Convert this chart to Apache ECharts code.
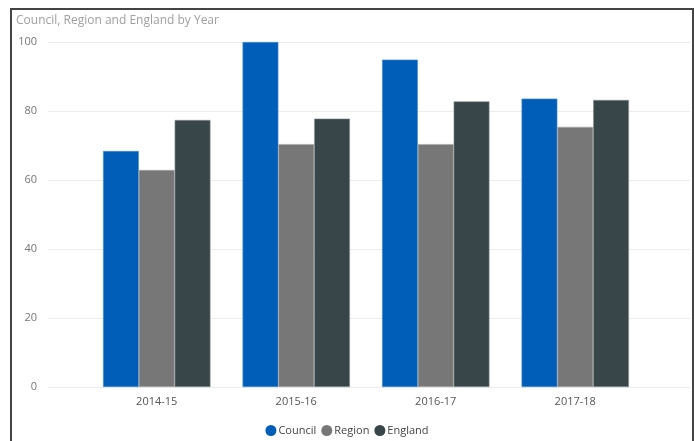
<!DOCTYPE html>
<html><head><meta charset="utf-8">
<script src="https://cdn.jsdelivr.net/npm/echarts@6/dist/echarts.min.js"></script>
<style>
html,body{margin:0;padding:0;background:#fff;}
#frame{position:absolute;left:10px;top:8px;width:680px;height:440px;border:2px solid #444;border-bottom:none;}
#c{position:absolute;left:0;top:0;width:694px;height:441px;}
</style></head>
<body>
<div id="frame"></div>
<div id="c"></div>
<script>
const categories = ['2014-15','2015-16','2016-17','2017-18'];
const council = [68.4, 100, 94.9, 83.6];
const region = [62.9, 70.4, 70.4, 75.4];
const england = [77.4, 77.8, 82.8, 83.2];
const yTicks = [0, 20, 40, 60, 80, 100];

const font = '"Open Sans", "DejaVu Sans", sans-serif';
const chart = echarts.init(document.getElementById('c'));
const barBorder = {borderWidth: 0.6};
chart.setOption({
  animation: false,
  title: {text: 'Council, Region and England by Year', left: 11, top: 10,
    textStyle: {fontFamily: font, fontSize: 12, fontWeight: 'normal', color: '#a0a0a0'}},
  legend: {bottom: 0, left: 'center', icon: 'circle', itemWidth: 11, itemHeight: 11, itemGap: 5,
    itemStyle: {borderWidth: 0},
    textStyle: {fontFamily: font, fontSize: 11, color: '#444', padding: [0,0,0,-3]}},
  grid: [
    {left: 48, right: 4, top: 42, bottom: 54},
    {left: 87, right: 49, top: 42, bottom: 54}
  ],
  xAxis: [
    {gridIndex: 0, type: 'value', show: false, min: 0, max: 1},
    {gridIndex: 1, type: 'category', data: categories,
      axisLine: {show: false}, axisTick: {show: false},
      axisLabel: {fontFamily: font, fontSize: 11, color: '#555', margin: 9}}
  ],
  yAxis: [
    {gridIndex: 0, type: 'value', min: 0, max: 100, interval: 20,
      axisLine: {show: false}, axisTick: {show: false},
      axisLabel: {fontFamily: font, fontSize: 11, color: '#777', margin: 11},
      splitLine: {lineStyle: {color: '#ececec', width: 1}}},
    {gridIndex: 1, type: 'value', min: 0, max: 100, interval: 20, show: false, splitLine: {show: false}}
  ],
  series: [
    {name: 'Council', type: 'bar', xAxisIndex: 1, yAxisIndex: 1, data: council, barGap: '0%', barCategoryGap: '23%',
      itemStyle: {color: '#005eb8', borderColor: '#4a8fd6', ...barBorder}},
    {name: 'Region', type: 'bar', xAxisIndex: 1, yAxisIndex: 1, data: region, barGap: '0%', barCategoryGap: '23%',
      itemStyle: {color: '#777777', borderColor: '#a8a8a8', ...barBorder}},
    {name: 'England', type: 'bar', xAxisIndex: 1, yAxisIndex: 1, data: england, barGap: '0%', barCategoryGap: '23%',
      itemStyle: {color: '#384649', borderColor: '#8a9496', ...barBorder}}
  ],
  color: ['#005eb8', '#777777', '#384649']
});
</script>
</body></html>
